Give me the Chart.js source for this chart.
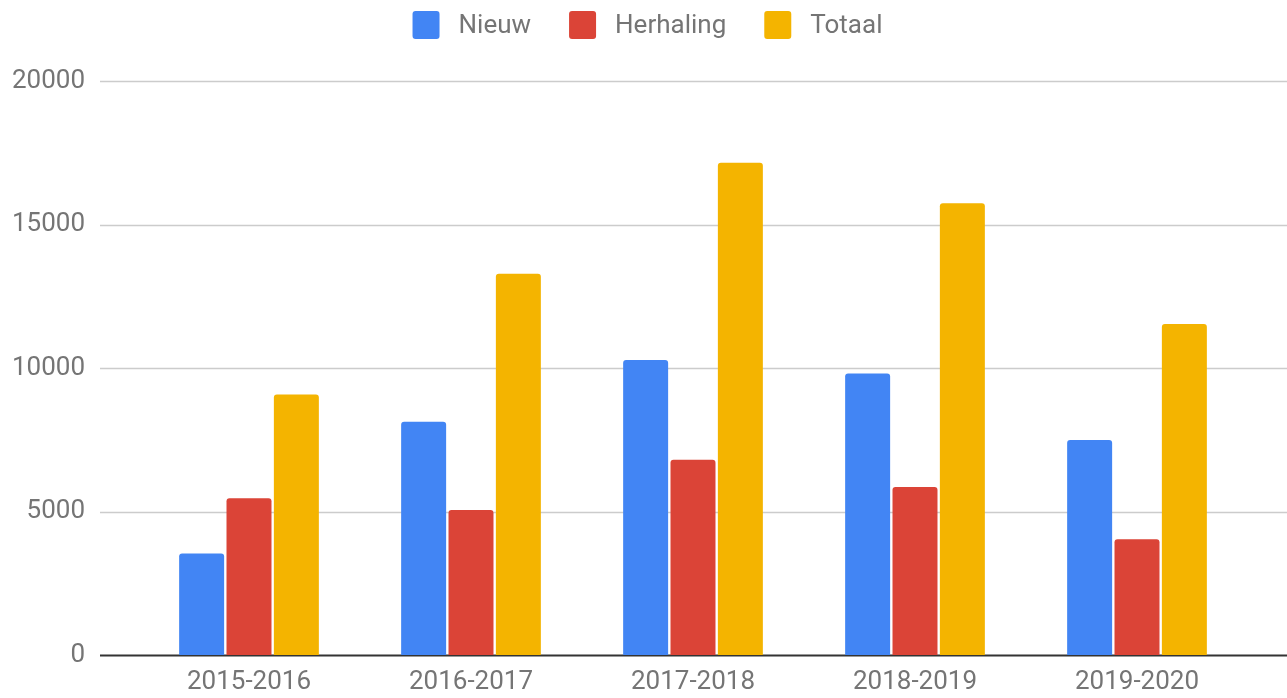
<!DOCTYPE html>
<html>
<head>
<meta charset="utf-8">
<script src="https://cdn.jsdelivr.net/npm/chart.js@4/dist/chart.umd.min.js"></script>
<style>
  html, body { margin: 0; padding: 0; background: #fff; overflow: hidden; }
  canvas { display: block; }
</style>
</head>
<body>
<canvas id="chart" width="1287" height="698"></canvas>
<script>
const seasons = ['2015-2016', '2016-2017', '2017-2018', '2018-2019', '2019-2020'];
const nieuw = [3540, 8130, 10280, 9810, 7490];
const herhaling = [5460, 5050, 6800, 5850, 4030];
const totaal = [9080, 13280, 17150, 15740, 11530];
const yTicks = [0, 5000, 10000, 15000, 20000];

const FONT = 'Roboto, "Noto Sans", sans-serif';
const TEXT = '#757575';

// grid lines run past the plot area to the left like in the sheet export
const gridPlugin = {
  id: 'grid',
  beforeDatasetsDraw(chart) {
    const { ctx, scales: { y } } = chart;
    ctx.save();
    yTicks.forEach(v => {
      const py = Math.round(y.getPixelForValue(v)) + 0.5;
      ctx.beginPath();
      ctx.moveTo(100, py);
      ctx.lineTo(chart.width, py);
      ctx.strokeStyle = v === 0 ? '#333333' : '#cccccc';
      ctx.lineWidth = v === 0 ? 2 : 1.5;
      ctx.stroke();
    });
    ctx.restore();
  }
};

const legendPlugin = {
  id: 'topLegend',
  afterDraw(chart) {
    const { ctx } = chart;
    const sets = chart.data.datasets;
    ctx.save();
    ctx.font = '26px ' + FONT;
    const boxW = 27, boxH = 28, gap = 19, itemGap = 38;
    const widths = sets.map(d => boxW + gap + ctx.measureText(d.label).width);
    const total = widths.reduce((a, b) => a + b, 0) + itemGap * (sets.length - 1);
    let x = (chart.width - total) / 2 + 4;
    const cy = 25;
    sets.forEach((d, i) => {
      ctx.fillStyle = d.backgroundColor;
      ctx.beginPath();
      ctx.roundRect(x, cy - boxH / 2, boxW, boxH, 3);
      ctx.fill();
      ctx.fillStyle = TEXT;
      ctx.textBaseline = 'middle';
      ctx.fillText(d.label, x + boxW + gap, cy + 1);
      x += widths[i] + itemGap;
    });
    ctx.restore();
  }
};

new Chart(document.getElementById('chart'), {
  type: 'bar',
  data: {
    labels: seasons,
    datasets: [
      { label: 'Nieuw', data: nieuw, backgroundColor: '#4285f4' },
      { label: 'Herhaling', data: herhaling, backgroundColor: '#db4437' },
      { label: 'Totaal', data: totaal, backgroundColor: '#f4b400' }
    ]
  },
  options: {
    responsive: false,
    animation: false,
    layout: { padding: { top: 81, left: 12, right: 39, bottom: 0 } },
    datasets: {
      bar: { categoryPercentage: 0.64, barPercentage: 0.95, borderRadius: { topLeft: 3, topRight: 3 } }
    },
    plugins: {
      legend: { display: false },
      tooltip: { enabled: false }
    },
    scales: {
      x: {
        grid: { display: false, drawTicks: false },
        border: { display: false },
        ticks: { color: TEXT, font: { family: FONT, size: 26 }, padding: 12, maxRotation: 0 },
        afterFit(axis) { axis.height = 43; axis.paddingBottom = 0; axis.paddingTop = 0; }
      },
      y: {
        min: 0,
        max: 20000,
        afterBuildTicks(axis) { axis.ticks = yTicks.map(v => ({ value: v })); },
        grid: { display: false, drawTicks: false },
        border: { display: false },
        ticks: { color: TEXT, font: { family: FONT, size: 26 }, padding: 53, callback: v => String(v) },
        afterFit(axis) { axis.width = 126; axis.paddingBottom = 0; axis.paddingTop = 0; }
      }
    }
  },
  plugins: [gridPlugin, legendPlugin]
});
</script>
</body>
</html>
